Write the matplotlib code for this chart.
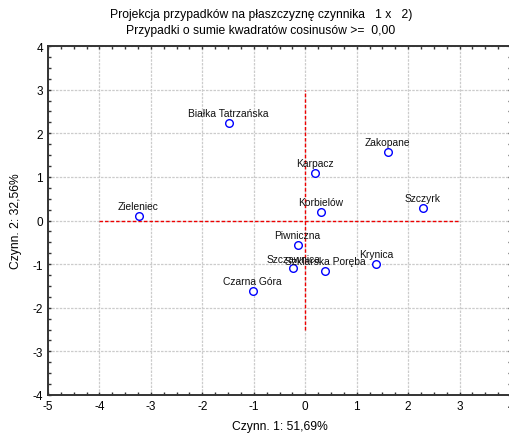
import matplotlib.pyplot as plt
from matplotlib.ticker import MultipleLocator

# Factor scores of the cases (factor 1 vs factor 2)
names = ["Białka Tatrzańska", "Zieleniec", "Zakopane", "Karpacz", "Korbielów",
         "Szczyrk", "Piwniczna", "Szczawnica", "Szklarska Poręba", "Krynica",
         "Czarna Góra"]
factor1 = [-1.49, -3.24, 1.60, 0.19, 0.30, 2.29, -0.15, -0.23, 0.39, 1.38, -1.02]
factor2 = [2.23, 0.10, 1.57, 1.10, 0.19, 0.29, -0.56, -1.10, -1.15, -0.99, -1.61]

plt.rcParams['font.family'] = ['Liberation Sans', 'DejaVu Sans']
plt.rcParams['axes.unicode_minus'] = False

fig = plt.figure(figsize=(5.1, 4.39), dpi=100)
ax = fig.add_axes([48 / 510, 1 - 396 / 439, 463 / 510, 349 / 439])

ax.set_xlim(-5, 4)
ax.set_ylim(-4, 4)
ax.xaxis.set_major_locator(MultipleLocator(1))
ax.yaxis.set_major_locator(MultipleLocator(1))
ax.xaxis.set_minor_locator(MultipleLocator(0.25))
ax.yaxis.set_minor_locator(MultipleLocator(0.25))
ax.tick_params(which='both', direction='in', top=True, right=True,
               length=2.5, width=1, labelsize=8.5, color='#333333')
ax.grid(True, which='major', color='#cccccc', linestyle=(0, (2, 1)), linewidth=0.9)
ax.set_axisbelow(True)
for sp in ax.spines.values():
    sp.set_color('#333333')
    sp.set_linewidth(1.4)

# origin lines
ax.plot([-4, 3], [0, 0], color='#ee0000', linestyle=(0, (2.5, 1.5)), linewidth=1, zorder=2)
ax.plot([0, 0], [-2.5, 3], color='#ee0000', linestyle=(0, (2.5, 1.5)), linewidth=1, zorder=2)

ax.plot(factor1, factor2, linestyle='none', marker='o', markersize=5.5,
        markerfacecolor='white', markeredgecolor='#0000ff', markeredgewidth=1, zorder=3)
for name, x, y in zip(names, factor1, factor2):
    ax.annotate(name, (x, y), xytext=(0, 3.5), textcoords='offset points',
                ha='center', va='bottom', fontsize=7.4, color='#111111', zorder=4)

ax.set_xlabel("Czynn. 1: 51,69%", fontsize=8.7, labelpad=6)
ax.set_ylabel("Czynn. 2: 32,56%", fontsize=8.7, labelpad=8)

fig.text(261 / 510, 1 - 15 / 439, "Projekcja przypadków na płaszczyznę czynnika   1 x   2)",
         ha='center', va='center', fontsize=8.7)
fig.text(261 / 510, 1 - 31 / 439, "Przypadki o sumie kwadratów cosinusów >=  0,00",
         ha='center', va='center', fontsize=8.7)

fig.savefig("out.png", dpi=100)
